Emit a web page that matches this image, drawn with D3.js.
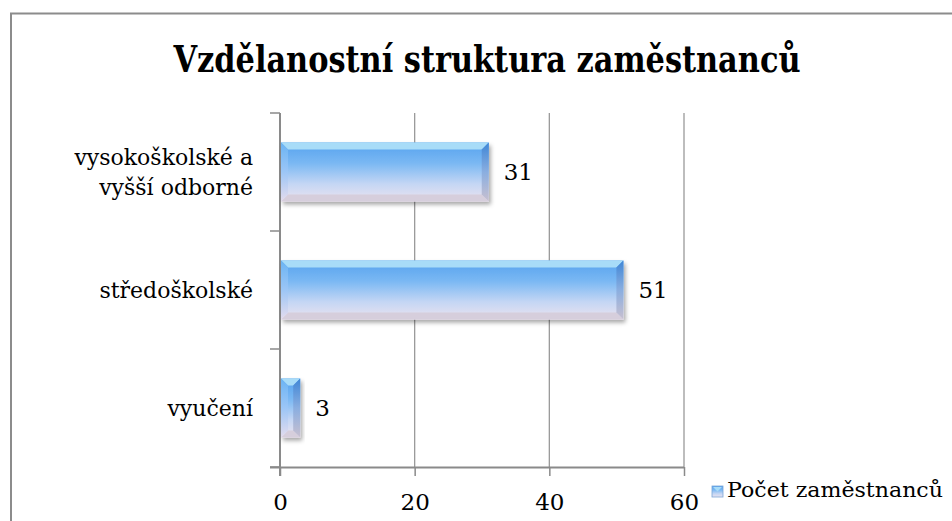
<!DOCTYPE html>
<html><head><meta charset="utf-8">
<script src="https://cdn.jsdelivr.net/npm/d3@7"></script>
<style>body{margin:0;background:#fff}svg{display:block}</style>
</head><body>
<svg id="c" width="952" height="521"></svg>
<script>
const categories = [["vysokoškolské a","vyšší odborné"],["středoškolské"],["vyučení"]];
const values = [31, 51, 3];
const xTicks = [0, 20, 40, 60];
const title = "Vzdělanostní struktura zaměstnanců";
const seriesName = "Počet zaměstnanců";

const svg = d3.select("#c");
const serif = "DejaVu Serif, serif";
const defs = svg.append("defs");
const g1 = defs.append("linearGradient").attr("id","barG").attr("x1",0).attr("y1",0).attr("x2",0).attr("y2",1);
[[0,"#56a2ee"],[0.35,"#7ab8f3"],[0.7,"#c4d6f4"],[1,"#ebe3ef"]].forEach(s=>g1.append("stop").attr("offset",s[0]).attr("stop-color",s[1]));
const g2 = defs.append("linearGradient").attr("id","sideG").attr("x1",0).attr("y1",0).attr("x2",0).attr("y2",1);
[[0,"#3f86d6"],[0.5,"#8aaee0"],[1,"#c8c0d0"]].forEach(s=>g2.append("stop").attr("offset",s[0]).attr("stop-color",s[1]));
const g3 = defs.append("linearGradient").attr("id","sideL").attr("x1",0).attr("y1",0).attr("x2",0).attr("y2",1);
[[0,"#6ab4f4"],[0.5,"#9cc6f6"],[1,"#e4dcee"]].forEach(s=>g3.append("stop").attr("offset",s[0]).attr("stop-color",s[1]));
const f = defs.append("filter").attr("id","sh").attr("x","-10%").attr("y","-20%").attr("width","130%").attr("height","160%");
f.append("feDropShadow").attr("dx",2).attr("dy",3).attr("stdDeviation",2.2).attr("flood-color","#000").attr("flood-opacity",0.35);

// frame
svg.append("rect").attr("x",11).attr("y",13.5).attr("width",960).attr("height",530)
  .attr("fill","none").attr("stroke","#8c8c8c").attr("stroke-width",2);

// title
svg.append("text").attr("x",487).attr("y",72).attr("text-anchor","middle")
  .attr("font-family",serif).attr("font-weight","bold").attr("font-size",37)
  .style("font-stretch","condensed")
  .attr("textLength",627).attr("lengthAdjust","spacingAndGlyphs")
  .attr("fill","#000").text(title);

const x = d3.scaleLinear().domain([0,60]).range([280,684]);
const y = d3.scaleBand().domain(categories.map((c,i)=>i)).range([113,467]).paddingInner(0.5).paddingOuter(0.25);

// gridlines
svg.append("g").selectAll("line").data(xTicks.slice(1)).join("line")
  .attr("x1",d=>x(d)).attr("x2",d=>x(d)).attr("y1",113).attr("y2",467)
  .attr("stroke","#9a9a9a").attr("stroke-width",1.3);

// x axis
const xa = svg.append("g").attr("transform","translate(0,467)")
  .call(d3.axisBottom(x).tickValues(xTicks).tickSize(9).tickPadding(18).tickSizeOuter(0));
xa.select(".domain").attr("stroke","#8a8a8a").attr("stroke-width",2).attr("d","M270,0.5H684");
xa.selectAll(".tick line").attr("stroke","#8a8a8a").attr("stroke-width",1.5);
xa.selectAll(".tick text").attr("font-family",serif).attr("font-size",23).attr("fill","#000");

// y axis
const ya = svg.append("g").attr("transform","translate(280,0)");
ya.append("line").attr("x1",0).attr("x2",0).attr("y1",113).attr("y2",476).attr("stroke","#8a8a8a").attr("stroke-width",2);
const bnd = d3.range(0,4).map(k=>113 + k*(354/3));
ya.selectAll("line.t").data(bnd).join("line").attr("class","t")
  .attr("x1",-10).attr("x2",0).attr("y1",d=>d).attr("y2",d=>d)
  .attr("stroke","#8a8a8a").attr("stroke-width",1.5);

// category labels
categories.forEach((lines,i)=>{
  const cy = y(i)+y.bandwidth()/2;
  const t = svg.append("text").attr("x",253).attr("text-anchor","end")
    .attr("font-family",serif).attr("font-size",22).attr("fill","#000");
  const lh = 30;
  lines.forEach((ln,k)=>{
    t.append("tspan").attr("x",253).attr("y",cy + 8 + (k-(lines.length-1)/2)*lh).text(ln);
  });
});

// bars
const bev = 7;
values.forEach((v,i)=>{
  const x0 = x(0)+1, x1 = x(v), y0 = y(i), y1 = y(i)+y.bandwidth();
  const b = Math.min(bev, (x1-x0)/2);
  const gb = svg.append("g");
  gb.append("rect").attr("x",x0).attr("y",y0).attr("width",x1-x0).attr("height",y1-y0)
    .attr("fill","url(#barG)").attr("filter","url(#sh)");
  gb.append("polygon").attr("points",`${x0},${y0} ${x1},${y0} ${x1-b},${y0+b} ${x0+b},${y0+b}`).attr("fill","#a8dcf8");
  gb.append("polygon").attr("points",`${x0},${y1} ${x1},${y1} ${x1-b},${y1-b} ${x0+b},${y1-b}`).attr("fill","#d6cedc");
  gb.append("polygon").attr("points",`${x0},${y0} ${x0+b},${y0+b} ${x0+b},${y1-b} ${x0},${y1}`).attr("fill","url(#sideL)");
  gb.append("polygon").attr("points",`${x1},${y0} ${x1-b},${y0+b} ${x1-b},${y1-b} ${x1},${y1}`).attr("fill","url(#sideG)");
  svg.append("text").attr("x",x1+15).attr("y",(y0+y1)/2+8)
    .attr("font-family",serif).attr("font-size",23).attr("fill","#000").text(v);
});

// legend
const lg = svg.append("g").attr("transform","translate(712,486)");
lg.append("rect").attr("x",0).attr("y",0).attr("width",11).attr("height",11).attr("fill","url(#barG)").attr("stroke","#7aa6d8").attr("stroke-width",0.8);
lg.append("polygon").attr("points","1,1 10,1 5.5,5.5").attr("fill","#a8dcf8");
lg.append("text").attr("x",15).attr("y",11).attr("font-family",serif).attr("font-size",21)
  .attr("textLength",216).attr("lengthAdjust","spacingAndGlyphs").attr("fill","#000").text(seriesName);
</script>
</body></html>
